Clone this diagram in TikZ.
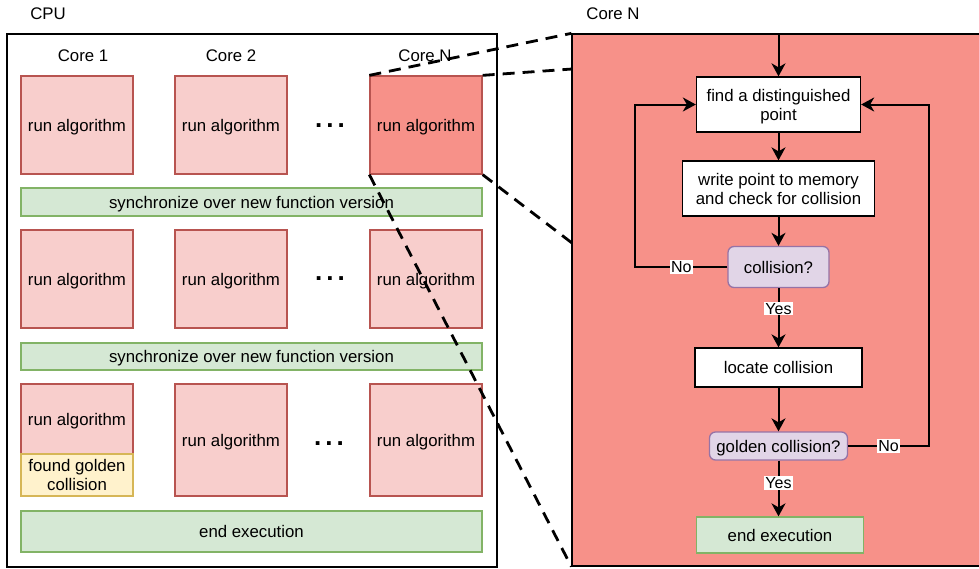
\documentclass[tikz,border=0pt]{standalone}
\usepackage{fontspec}
\setmainfont{Liberation Sans}
\usetikzlibrary{arrows.meta}
\definecolor{pinkf}{HTML}{F8CECC}
\definecolor{pinkd}{HTML}{B85450}
\definecolor{salmon}{RGB}{247,145,137}
\definecolor{greenf}{HTML}{D5E8D4}
\definecolor{greend}{HTML}{82B366}
\definecolor{yellowf}{HTML}{FFF2CC}
\definecolor{yellowd}{HTML}{D6B656}
\definecolor{purplef}{HTML}{E1D5E7}
\definecolor{purpled}{HTML}{9673A6}
\begin{document}
\begin{tikzpicture}[x=1pt,y=-1pt,
  base/.style={inner sep=0pt, align=center, text depth=0pt, font=\fontsize{16.8}{19}\selectfont, line width=1.3pt},
  pinkbox/.style={base, draw=pinkd, fill=pinkf, minimum width=112pt, minimum height=98pt},
  hotbox/.style={base, draw=pinkd, fill=salmon, minimum width=112pt, minimum height=98pt},
  greenbox/.style={base, draw=greend, fill=greenf},
  yellowbox/.style={base, draw=yellowd, fill=yellowf},
  whitebox/.style={base, draw=black, fill=white},
  purplebox/.style={base, draw=purpled, fill=purplef, rounded corners=6pt},
  title/.style={base, draw=none},
  dotsnode/.style={inner sep=0pt, font=\fontsize{26}{26}\bfseries},
  arr/.style={line width=2pt, -{Stealth[length=13pt,width=14pt,inset=4pt]}},
  lbl/.style={fill=white, inner sep=1pt, font=\fontsize{16}{16}\selectfont},
  zoomline/.style={line width=2.8pt, dash pattern=on 12pt off 8pt}
]
\useasboundingbox[fill=white] (0,0) rectangle (979,568);

% CPU side
\node[title] (cpulbl) at (48,14) {CPU};
\node[base, draw=black, minimum width=490pt, minimum height=533pt] (cpu) at (252,300.5) {};
\node[title] (c1) at (83,56) {Core 1};
\node[title] (c2) at (231,56) {Core 2};
\node[title] (cn) at (425,56) {Core N};

\node[pinkbox] (r1a) at (77,125) {run algorithm};
\node[pinkbox] (r1b) at (231,125) {run algorithm};
\node[dotsnode] (d1) at (330,126) {.\kern4pt.\kern4pt.};
\node[hotbox] (r1n) at (426,125) {run algorithm};

\node[greenbox, minimum width=461pt, minimum height=28pt] (s1) at (251.5,202) {synchronize over new function version};

\node[pinkbox] (r2a) at (77,279) {run algorithm};
\node[pinkbox] (r2b) at (231,279) {run algorithm};
\node[dotsnode] (d2) at (330,279) {.\kern4pt.\kern4pt.};
\node[pinkbox] (r2n) at (426,279) {run algorithm};

\node[greenbox, minimum width=461pt, minimum height=27pt] (s2) at (251.5,356.5) {synchronize over new function version};

\node[pinkbox, minimum height=70pt] (r3a) at (77,419) {run algorithm};
\node[yellowbox, minimum width=112pt, minimum height=42pt] (fg) at (77,475) {found golden\\collision};
\node[pinkbox, minimum height=112pt] (r3b) at (231,440) {run algorithm};
\node[dotsnode] (d3) at (329,444) {.\kern4pt.\kern4pt.};
\node[pinkbox, minimum height=112pt] (r3n) at (426,440) {run algorithm};

\node[greenbox, minimum width=461pt, minimum height=41pt] (e1) at (251.5,531.5) {end execution};

% Core N panel
\node[title] (cnlbl) at (613,14) {Core N};
\node[base, draw=black, fill=salmon, minimum width=413pt, minimum height=532pt] (panel) at (778.5,300) {};

\node[whitebox, minimum width=164pt, minimum height=55pt] (find) at (778.5,104.5) {find a distinguished\\point};
\node[whitebox, minimum width=192pt, minimum height=55pt] (write) at (778.5,188.5) {write point to memory\\and check for collision};
\node[purplebox, minimum width=101pt, minimum height=41pt] (coll) at (778.5,267) {collision?};
\node[whitebox, minimum width=167pt, minimum height=39pt] (loc) at (778.5,367.5) {locate collision};
\node[purplebox, minimum width=138pt, minimum height=28pt] (gold) at (778.5,446) {golden collision?};
\node[greenbox, minimum width=167pt, minimum height=36pt] (endr) at (780,535) {end execution};

\draw[arr] (panel.north) -- (find.north);
\draw[arr] (find.south) -- (write.north);
\draw[arr] (write.south) -- (coll.north);
\draw[arr] (coll.south) -- node[lbl, pos=0.35] {Yes} (loc.north);
\draw[arr] (loc.south) -- (gold.north);
\draw[arr] (gold.south) -- node[lbl, pos=0.4] {Yes} (gold.south |- endr.north);
\draw[arr] (coll.west) -- node[lbl] {No} ++(-92,0) |- (find.west);
\draw[arr] (gold.east) -- node[lbl] {No} ++(81,0) |- (find.east);

% zoom lines
\coordinate (p1) at (572,69);
\coordinate (p2) at (572,243);
\draw[zoomline] (r1n.north west) -- (panel.north west);
\draw[zoomline] (r1n.north east) -- (p1);
\draw[zoomline] (r1n.south east) -- (p2);
\draw[zoomline] (r1n.south west) -- (panel.south west);
\end{tikzpicture}
\end{document}
